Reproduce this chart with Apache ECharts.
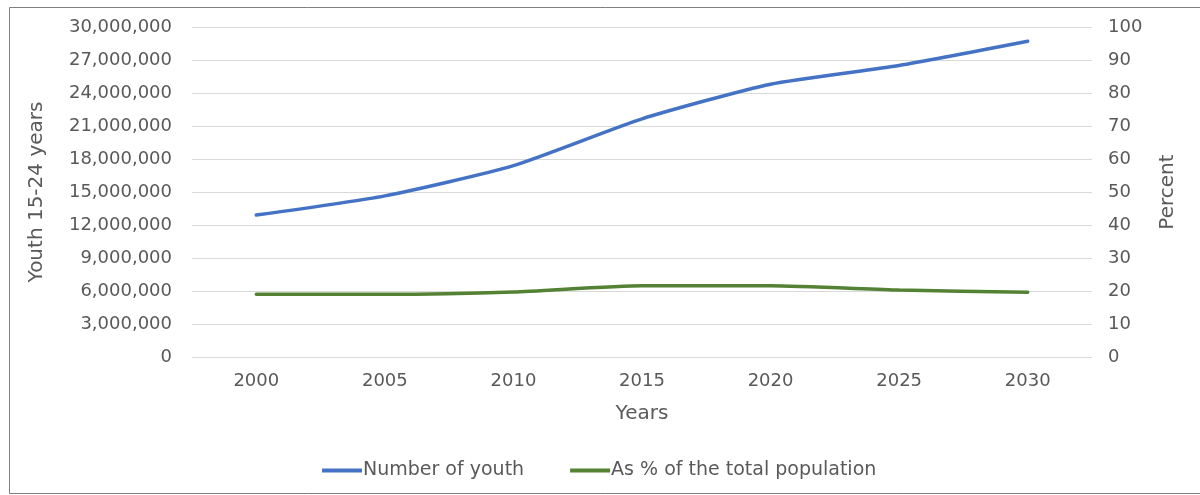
<!DOCTYPE html>
<html>
<head>
<meta charset="utf-8">
<script src="https://cdn.jsdelivr.net/npm/echarts@6/dist/echarts.min.js"></script>
<style>
  html, body { margin: 0; padding: 0; background: #fff; }
  #chart { width: 1200px; height: 495px; }
</style>
</head>
<body>
<div id="chart"></div>
<script>
// Youth population (15-24) and its share of the total population
const years = ['2000', '2005', '2010', '2015', '2020', '2025', '2030'];
const youthCount = [12900000, 14650000, 17400000, 21650000, 24800000, 26500000, 28700000];
const youthShare = [19.0, 19.0, 19.7, 21.6, 21.6, 20.3, 19.6];
const countTicks = { min: 0, max: 30000000, interval: 3000000 };
const shareTicks = { min: 0, max: 100, interval: 10 };

const textColor = '#595959';
const fontFamily = '"DejaVu Sans", sans-serif';

const chart = echarts.init(document.getElementById('chart'), null, { renderer: 'canvas' });
chart.setOption({
  backgroundColor: '#fff',
  animation: false,
  textStyle: { fontFamily: fontFamily, color: textColor },
  graphic: [{
    type: 'rect',
    shape: { x: 9.5, y: 7.5, width: 1200, height: 486 },
    style: { fill: 'none', stroke: '#7f7f7f', lineWidth: 1 },
    silent: true
  }],
  grid: { left: 192, right: 108, top: 27, bottom: 138 },
  legend: {
    left: 322, top: 461, padding: 0,
    itemWidth: 40, itemHeight: 4, itemGap: 46,
    icon: 'rect',
    textStyle: { fontSize: 19, color: textColor, fontFamily: fontFamily, padding: [0, 0, 0, -4] },
    data: ['Number of youth', 'As % of the total population']
  },
  xAxis: {
    type: 'category',
    data: years,
    boundaryGap: true,
    name: 'Years',
    nameLocation: 'middle',
    nameGap: 47,
    nameTextStyle: { fontSize: 20, color: textColor, fontFamily: fontFamily },
    axisLine: { show: false },
    axisTick: { show: false },
    axisLabel: { fontSize: 18, color: textColor, margin: 15 }
  },
  yAxis: [{
    type: 'value',
    min: countTicks.min, max: countTicks.max, interval: countTicks.interval,
    name: 'Youth 15-24 years',
    nameLocation: 'middle',
    nameGap: 145,
    nameRotate: 90,
    nameTextStyle: { fontSize: 20, color: textColor, fontFamily: fontFamily },
    axisLine: { show: false },
    axisTick: { show: false },
    axisLabel: {
      fontSize: 18, color: textColor, margin: 20,
      formatter: v => v.toLocaleString('en-US')
    },
    splitLine: { lineStyle: { color: '#d9d9d9', width: 1 } }
  }, {
    type: 'value',
    min: shareTicks.min, max: shareTicks.max, interval: shareTicks.interval,
    name: 'Percent',
    nameLocation: 'middle',
    nameGap: 66,
    nameRotate: 90,
    nameTextStyle: { fontSize: 20, color: textColor, fontFamily: fontFamily },
    axisLine: { show: false },
    axisTick: { show: false },
    axisLabel: { fontSize: 18, color: textColor, margin: 16 },
    splitLine: { show: false }
  }],
  series: [{
    name: 'Number of youth',
    type: 'line',
    yAxisIndex: 0,
    data: youthCount,
    smooth: 0.2,
    symbol: 'none',
    lineStyle: { color: '#4472c4', width: 3.5, cap: 'round' },
    itemStyle: { color: '#4472c4' }
  }, {
    name: 'As % of the total population',
    type: 'line',
    yAxisIndex: 1,
    data: youthShare,
    smooth: 0.2,
    symbol: 'none',
    lineStyle: { color: '#548235', width: 3.5, cap: 'round' },
    itemStyle: { color: '#548235' }
  }]
});
</script>
</body>
</html>
